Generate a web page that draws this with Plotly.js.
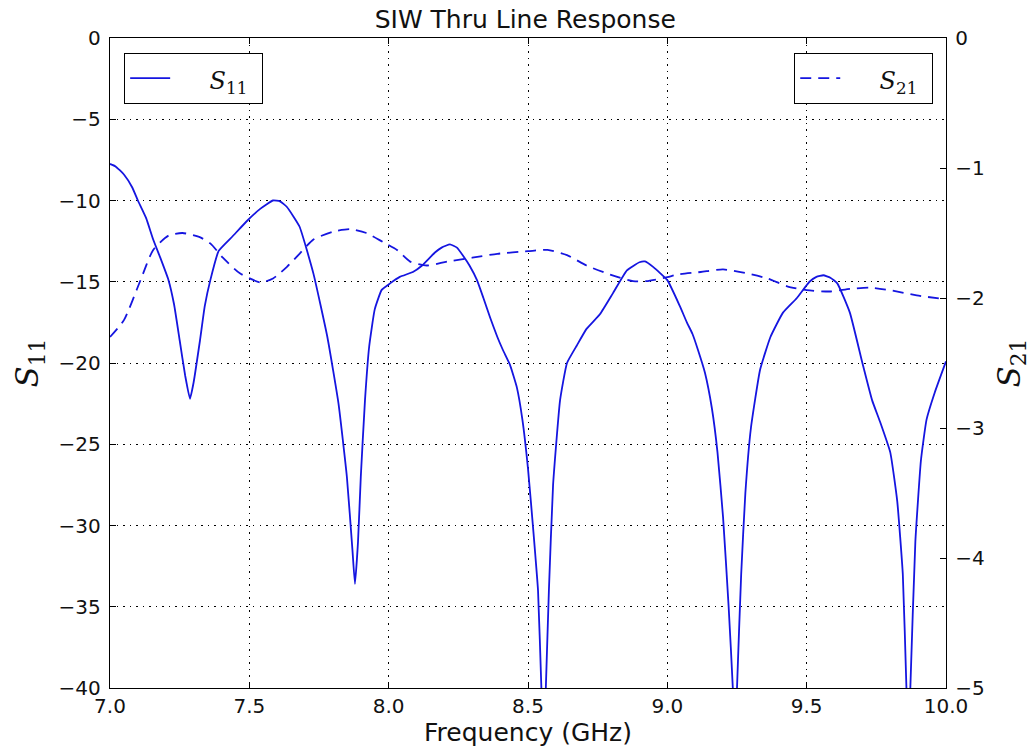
<!DOCTYPE html>
<html>
<head>
<meta charset="utf-8">
<script src="https://cdn.plot.ly/plotly-3.0.1.min.js"></script>
<style>
html,body{margin:0;padding:0;background:#fff;}
#chart{width:1034px;height:751px;}
</style>
</head>
<body>
<div id="chart"></div>
<script>
// Frequency (GHz) and S11 (dB)
var freqS11 = [7.0, 7.02, 7.05, 7.08, 7.10, 7.13, 7.155, 7.18, 7.21, 7.23, 7.25, 7.27, 7.287, 7.30, 7.323, 7.34, 7.36, 7.39, 7.44, 7.495, 7.54, 7.585, 7.61, 7.635, 7.68, 7.73, 7.78, 7.82, 7.85, 7.87, 7.879, 7.89, 7.90, 7.915, 7.93, 7.95, 7.975, 8.005, 8.04, 8.087, 8.12, 8.166, 8.19, 8.22, 8.245, 8.267, 8.29, 8.317, 8.34, 8.364, 8.39, 8.41, 8.435, 8.46, 8.48, 8.50, 8.52, 8.536, 8.548, 8.556, 8.564, 8.575, 8.59, 8.615, 8.64, 8.676, 8.71, 8.758, 8.805, 8.855, 8.90, 8.92, 8.95, 9.0, 9.045, 9.07, 9.09, 9.11, 9.135, 9.16, 9.18, 9.20, 9.22, 9.235, 9.242, 9.25, 9.265, 9.28, 9.30, 9.333, 9.37, 9.415, 9.465, 9.51, 9.535, 9.56, 9.585, 9.61, 9.655, 9.70, 9.735, 9.763, 9.80, 9.825, 9.845, 9.858, 9.865, 9.872, 9.89, 9.91, 9.93, 9.96, 10.0];
var s11 = [-7.75, -7.9, -8.4, -9.2, -10.0, -11.1, -12.4, -13.5, -14.9, -16.4, -18.6, -20.8, -22.2, -21.2, -18.6, -16.5, -14.9, -13.1, -12.2, -11.2, -10.5, -10.0, -10.05, -10.4, -11.6, -14.5, -18.4, -22.5, -27.0, -31.5, -33.6, -31.0, -27.0, -22.3, -19.0, -16.7, -15.5, -15.1, -14.7, -14.4, -14.0, -13.2, -12.9, -12.7, -12.9, -13.4, -14.0, -14.9, -16.0, -17.2, -18.4, -19.2, -20.1, -21.5, -23.5, -26.5, -30.5, -34.0, -40.0, -44.0, -40.0, -34.0, -27.5, -22.3, -20.0, -18.9, -17.9, -17.0, -15.7, -14.3, -13.8, -13.75, -14.1, -14.9, -16.5, -17.5, -18.2, -19.2, -20.6, -22.8, -25.5, -29.5, -35.0, -40.0, -45.0, -40.0, -33.0, -28.0, -24.0, -20.4, -18.4, -16.9, -16.0, -15.0, -14.7, -14.6, -14.75, -15.1, -16.9, -20.0, -22.3, -23.6, -25.5, -28.5, -33.0, -40.0, -44.0, -40.0, -31.0, -26.0, -23.5, -21.8, -19.9];

// Frequency (GHz) and S21 (dB)
var freqS21 = [7.0, 7.05, 7.11, 7.155, 7.21, 7.26, 7.32, 7.36, 7.405, 7.466, 7.54, 7.585, 7.635, 7.68, 7.73, 7.80, 7.86, 7.92, 7.98, 8.03, 8.077, 8.137, 8.21, 8.30, 8.39, 8.50, 8.57, 8.64, 8.71, 8.795, 8.877, 8.925, 9.0, 9.035, 9.12, 9.20, 9.285, 9.36, 9.43, 9.50, 9.585, 9.655, 9.727, 9.80, 9.895, 10.0];
var s21 = [-2.30, -2.17, -1.86, -1.63, -1.52, -1.50, -1.53, -1.58, -1.69, -1.81, -1.88, -1.85, -1.76, -1.66, -1.55, -1.49, -1.47, -1.50, -1.57, -1.63, -1.72, -1.75, -1.72, -1.69, -1.66, -1.64, -1.63, -1.67, -1.75, -1.82, -1.87, -1.87, -1.84, -1.82, -1.80, -1.78, -1.81, -1.85, -1.91, -1.94, -1.95, -1.93, -1.92, -1.94, -1.98, -2.01];

var xTicks = [7.0, 7.5, 8.0, 8.5, 9.0, 9.5, 10.0];
var y1Ticks = [0, -5, -10, -15, -20, -25, -30, -35, -40];
var y2Ticks = [0, -1, -2, -3, -4, -5];

var lineColor = '#1515e0';
var txt = '#111111';
var pad = '\u00a0\u00a0\u00a0\u00a0';

var traces = [
  {
    x: freqS11, y: s11, type: 'scatter', mode: 'lines',
    name: pad + '<span style="font-size:24px"><i>S</i><sub>11</sub></span>\u00a0',
    line: {color: lineColor, width: 1.8, shape: 'spline', smoothing: 0.4},
    xaxis: 'x', yaxis: 'y', legend: 'legend'
  },
  {
    x: freqS21, y: s21, type: 'scatter', mode: 'lines',
    name: pad + '<span style="font-size:24px"><i>S</i><sub>21</sub></span>\u00a0',
    line: {color: lineColor, width: 1.8, dash: '11px,7px', shape: 'spline', smoothing: 0.6},
    xaxis: 'x', yaxis: 'y2', legend: 'legend2'
  }
];

var tickFont = {family: 'DejaVu Sans', size: 20, color: txt};
var legFont = {family: 'DejaVu Serif', size: 27, color: txt};

var layout = {
  width: 1034, height: 751,
  margin: {l: 110, r: 88, t: 38, b: 63, pad: 0},
  paper_bgcolor: '#ffffff', plot_bgcolor: '#ffffff',
  showlegend: true,
  title: {text: 'SIW Thru Line Response', font: {family: 'DejaVu Sans', size: 25, color: txt}, x: 0.508, xanchor: 'center', y: 0.975, yanchor: 'middle'},
  xaxis: {
    range: [7, 10], tickvals: xTicks, tickformat: '.1f',
    ticks: 'inside', ticklen: 6, tickcolor: '#000', tickwidth: 1,
    showline: true, linecolor: '#000', linewidth: 1.2, mirror: 'ticks',
    showgrid: true, gridcolor: '#000', gridwidth: 1, griddash: '1.5px,5px',
    zeroline: false, tickfont: tickFont,
    title: {text: 'Frequency (GHz)', font: {family: 'DejaVu Sans', size: 25, color: txt}, standoff: 6}
  },
  yaxis: {
    range: [-40, 0], tickvals: y1Ticks,
    ticks: 'inside', ticklen: 6, tickcolor: '#000', tickwidth: 1,
    showline: true, linecolor: '#000', linewidth: 1.2, mirror: false,
    showgrid: true, gridcolor: '#000', gridwidth: 1, griddash: '1.5px,5px',
    zeroline: false, tickfont: tickFont, ticklabelstandoff: 4,
    title: {text: '<i>S</i><sub>11</sub>', font: {family: 'DejaVu Serif', size: 31, color: txt}, standoff: 10}
  },
  yaxis2: {
    range: [-5, 0], tickvals: y2Ticks, overlaying: 'y', side: 'right',
    ticks: 'inside', ticklen: 6, tickcolor: '#000', tickwidth: 1,
    showline: true, linecolor: '#000', linewidth: 1.2,
    showgrid: false, zeroline: false, tickfont: tickFont, ticklabelstandoff: 4,
    title: {text: '<i>S</i><sub>21</sub>', font: {family: 'DejaVu Serif', size: 31, color: txt}, standoff: 14}
  },
  legend: {
    x: 0.0167, y: 0.977, xanchor: 'left', yanchor: 'top',
    bgcolor: '#ffffff', bordercolor: '#000', borderwidth: 1.2,
    font: legFont, itemwidth: 40
  },
  legend2: {
    x: 0.9845, y: 0.977, xanchor: 'right', yanchor: 'top',
    bgcolor: '#ffffff', bordercolor: '#000', borderwidth: 1.2,
    font: legFont, itemwidth: 40
  }
};

Plotly.newPlot('chart', traces, layout, {displayModeBar: false, staticPlot: true});
</script>
</body>
</html>
